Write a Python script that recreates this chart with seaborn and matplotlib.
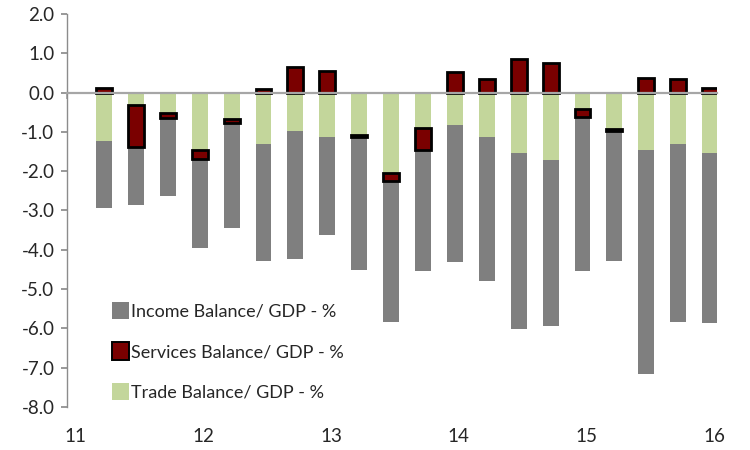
import numpy as np
import pandas as pd
import matplotlib
matplotlib.use("Agg")
import matplotlib.pyplot as plt
from matplotlib.patches import Patch
import seaborn as sns

# quarterly data, 2011 Q2 .. 2016 Q1
quarter_pos = [11.29, 11.54, 11.79, 12.04, 12.29, 12.54, 12.79, 13.04, 13.29, 13.54,
               13.79, 14.04, 14.29, 14.54, 14.79, 15.04, 15.29, 15.54, 15.79, 16.04]
trade = [-1.24, -0.31, -0.52, -1.47, -0.67, -1.30, -0.99, -1.14, -1.09, -2.04,
         -0.89, -0.82, -1.13, -1.55, -1.72, -0.42, -0.93, -1.47, -1.30, -1.55]
services = [0.12, -1.07, -0.13, -0.23, -0.11, 0.10, 0.66, 0.55, -0.04, -0.20,
            -0.56, 0.53, 0.34, 0.85, 0.74, -0.19, -0.06, 0.37, 0.34, 0.12]
income = [-1.71, -1.47, -1.98, -2.25, -2.66, -2.98, -3.25, -2.48, -3.38, -3.59,
          -3.10, -3.48, -3.67, -4.47, -4.23, -3.94, -3.29, -5.70, -4.55, -4.32]
year_ticks = [11, 12, 13, 14, 15, 16]
year_labels = ["11", "12", "13", "14", "15", "16"]
series_labels = ["Income Balance/ GDP - %", "Services Balance/ GDP - %", "Trade Balance/ GDP - %"]

c_income = "#7f7f7f"
c_services = "#7a0000"
c_trade = "#c3d69b"

sns.set_theme(style="white")
plt.rcParams["font.family"] = ["Lato", "DejaVu Sans"]

df = pd.DataFrame({"x": quarter_pos, "trade": trade, "services": services, "income": income})
svc_bottom = np.where(df["services"] < 0, df["trade"], 0.0)
inc_bottom = df["trade"] + np.minimum(df["services"], 0.0)

fig = plt.figure(figsize=(7.5, 4.5), dpi=100)
ax = fig.add_axes([0.0893, 0.0956, 0.8667, 0.8734])

sns.barplot(data=df, x="x", y="trade", native_scale=True, width=0.5, errorbar=None,
            color=c_trade, saturation=1, linewidth=0, ax=ax)
sns.barplot(data=df, x="x", y="income", native_scale=True, width=0.5, errorbar=None,
            color=c_income, saturation=1, linewidth=0, bottom=inc_bottom.values, ax=ax)
sns.barplot(data=df, x="x", y="services", native_scale=True, width=0.5, errorbar=None,
            color=c_services, saturation=1, edgecolor="black", linewidth=2.0,
            bottom=svc_bottom, ax=ax)

ax.set_xlim(11.0, 16.094)
ax.set_ylim(-8.0, 2.0)
ax.set_yticks(np.arange(-8, 2.1, 1.0))
ax.set_yticklabels([f"{v:.1f}" for v in np.arange(-8, 2.1, 1.0)], fontsize=13.5, color="#262626")
ax.set_xlabel("")
ax.set_ylabel("")

for s in ["top", "right"]:
    ax.spines[s].set_visible(False)
ax.spines["left"].set_color("#8c8c8c")
ax.spines["left"].set_linewidth(1.0)
ax.spines["bottom"].set_position(("data", 0))
ax.spines["bottom"].set_color("#a6a6a6")
ax.spines["bottom"].set_linewidth(1.6)

ax.set_xticks(year_ticks)
ax.tick_params(axis="x", bottom=True, length=4, color="#a6a6a6", labelbottom=False)
ax.tick_params(axis="y", left=True, length=4, color="#8c8c8c", pad=5)

sec = ax.secondary_xaxis(0.0)
sec.set_xticks([v + 0.07 for v in year_ticks], year_labels)
sec.tick_params(length=0, pad=15, labelsize=13.5, labelcolor="#262626")
sec.spines["bottom"].set_visible(False)

handles = [Patch(facecolor=c_income, edgecolor="none"),
           Patch(facecolor=c_services, edgecolor="black", linewidth=1.4),
           Patch(facecolor=c_trade, edgecolor="none")]
ax.legend(handles, series_labels, loc="lower left", bbox_to_anchor=(0.045, -0.025),
          frameon=False, fontsize=13, handlelength=0.9, handleheight=1.1,
          handletextpad=0.15, labelspacing=1.25, labelcolor="#262626")

fig.savefig("out.png", dpi=100)
